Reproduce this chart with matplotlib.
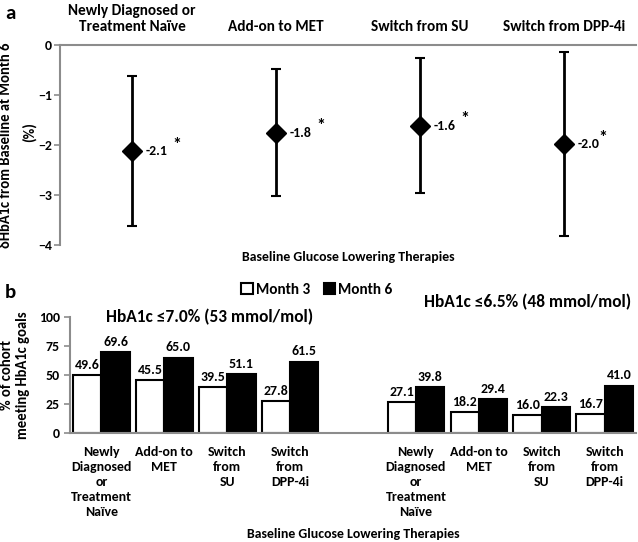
import matplotlib.pyplot as plt
import numpy as np

plt.rcParams['font.family'] = ['Carlito', 'DejaVu Sans']
plt.rcParams['font.weight'] = 'bold'

# panel a data
cats_a = ["Newly Diagnosed or\nTreatment Naïve", "Add-on to MET", "Switch from SU", "Switch from DPP-4i"]
mean_change = [-2.13, -1.76, -1.62, -1.99]
ci_upper = [-0.63, -0.49, -0.27, -0.15]
ci_lower = [-3.62, -3.02, -2.97, -3.83]
change_labels = ["-2.1", "-1.8", "-1.6", "-2.0"]

# panel b data
cats_b = ["Newly\nDiagnosed\nor\nTreatment\nNaïve", "Add-on to\nMET", "Switch\nfrom\nSU", "Switch\nfrom\nDPP-4i"]
goal70_m3 = [49.6, 45.5, 39.5, 27.8]
goal70_m6 = [69.6, 65.0, 51.1, 61.5]
goal65_m3 = [27.1, 18.2, 16.0, 16.7]
goal65_m6 = [39.8, 29.4, 22.3, 41.0]

spine_gray = '#8c8c8c'

fig = plt.figure(figsize=(6.38, 5.42), dpi=100)

# ---- panel a ----
ax1 = fig.add_axes([0.094, 0.548, 0.903, 0.369])
xa = np.arange(len(cats_a))
mean = np.array(mean_change)
yerr = [mean - np.array(ci_lower), np.array(ci_upper) - mean]
ax1.errorbar(xa, mean, yerr=yerr, fmt='D', color='black', markersize=10,
             elinewidth=2, capsize=3.5, capthick=1.5)
for x, m, lab in zip(xa, mean, change_labels):
    ax1.annotate(lab, (x, m), xytext=(10, 0), textcoords='offset points',
                 ha='left', va='center', fontsize=10, fontweight='bold')
    ax1.annotate('*', (x, m), xytext=(29 if lab != "-2.0" else 25, 5),
                 textcoords='offset points', ha='left', va='center',
                 fontsize=13, fontweight='bold')
ax1.set_xlim(-0.5, 3.5)
ax1.set_ylim(-4, 0)
ax1.set_yticks([0, -1, -2, -3, -4])
ax1.xaxis.tick_top()
ax1.set_xticks(xa)
ax1.set_xticklabels(cats_a, fontsize=11, fontweight='bold')
ax1.tick_params(axis='x', length=0, pad=8)
ax1.tick_params(axis='y', labelsize=10, direction='out', length=4, width=1.2,
                color=spine_gray, labelcolor='black', pad=2)
for s in ['bottom', 'right']:
    ax1.spines[s].set_visible(False)
ax1.spines['top'].set_color(spine_gray)
ax1.spines['top'].set_linewidth(1.5)
ax1.spines['left'].set_color(spine_gray)
ax1.spines['left'].set_linewidth(1.5)
fig.text(6 / 638, 1 - 145 / 542, "δHbA1c from Baseline at Month 6", rotation=90,
         fontsize=10.5, fontweight='bold', ha='center', va='center')
fig.text(29 / 638, 1 - 132 / 542, "(%)", rotation=90,
         fontsize=10.5, fontweight='bold', ha='center', va='center')
ax1.set_xlabel("Baseline Glucose Lowering Therapies", fontsize=10, fontweight='bold', labelpad=4)
fig.text(0.008, 0.99, 'a', fontsize=15, fontweight='bold', va='top')

# ---- panel b ----
ax2 = fig.add_axes([0.1097, 0.2005, 0.8873, 0.2152])
pos_left = np.arange(4)
pos_right = np.arange(4) + 5
w = 0.45
b1 = ax2.bar(pos_left - w / 2, goal70_m3, w, color='white', edgecolor='black', linewidth=1.5, label='Month 3')
b2 = ax2.bar(pos_left + w / 2, goal70_m6, w, color='black', edgecolor='black', linewidth=1.5, label='Month 6')
b3 = ax2.bar(pos_right - w / 2, goal65_m3, w, color='white', edgecolor='black', linewidth=1.5)
b4 = ax2.bar(pos_right + w / 2, goal65_m6, w, color='black', edgecolor='black', linewidth=1.5)
for bars in (b1, b2, b3, b4):
    ax2.bar_label(bars, fmt='%.1f', padding=3, fontsize=10, fontweight='bold')
ax2.set_xlim(-0.5, 8.5)
ax2.set_ylim(0, 100)
ax2.set_yticks([0, 25, 50, 75, 100])
ax2.set_xticks(np.concatenate([pos_left, pos_right]))
ax2.set_xticklabels(cats_b + cats_b, fontsize=10, fontweight='bold', linespacing=1.3)
ax2.tick_params(axis='x', length=0, pad=9)
ax2.tick_params(axis='y', labelsize=10, direction='out', length=4, width=1.2,
                color=spine_gray, labelcolor='black')
for s in ['top', 'right']:
    ax2.spines[s].set_visible(False)
ax2.spines['bottom'].set_color(spine_gray)
ax2.spines['bottom'].set_linewidth(1.5)
ax2.spines['left'].set_color(spine_gray)
ax2.spines['left'].set_linewidth(1.5)
ax2.set_ylabel("% of cohort\nmeeting HbA1c goals", fontsize=10.5, fontweight='bold', labelpad=6)
ax2.set_xlabel("Baseline Glucose Lowering Therapies", fontsize=10, fontweight='bold', labelpad=7)
fig.text(106 / 638, 1 - 317 / 542, "HbA1c ≤7.0% (53 mmol/mol)", fontsize=12.5, fontweight='bold',
         ha='left', va='center')
fig.text(631 / 638, 1 - 302 / 542, "HbA1c ≤6.5% (48 mmol/mol)", fontsize=12.5, fontweight='bold',
         ha='right', va='center')
fig.legend(handles=[b1, b2], loc='center', bbox_to_anchor=(317 / 638, 1 - 290 / 542), ncol=2, frameon=False,
           handlelength=0.75, handleheight=0.75, handletextpad=0.2, columnspacing=0.9,
           prop={'weight': 'bold', 'size': 11})
fig.text(0.008, 1 - 293 / 542, 'b', fontsize=15, fontweight='bold', va='center')

fig.savefig('out.png', dpi=100)
